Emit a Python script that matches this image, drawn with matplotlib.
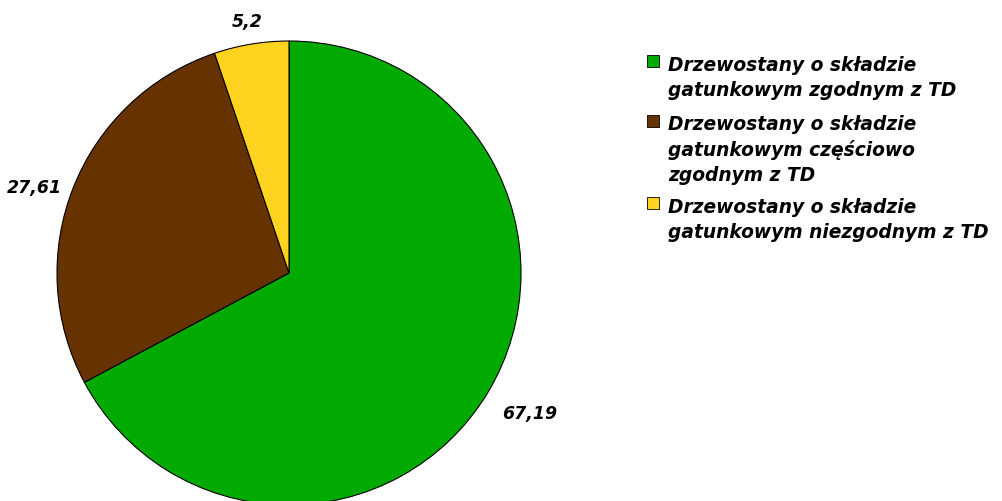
import numpy as np
import matplotlib
matplotlib.use("Agg")
import matplotlib.pyplot as plt
from matplotlib.patches import Rectangle

categories = [
    "Drzewostany o składzie\ngatunkowym zgodnym z TD",
    "Drzewostany o składzie\ngatunkowym częściowo\nzgodnym z TD",
    "Drzewostany o składzie\ngatunkowym niezgodnym z TD",
]
values = [67.19, 27.61, 5.2]
value_labels = ["67,19", "27,61", "5,2"]
colors = ["#00AA00", "#663300", "#FFD320"]

plt.rcParams['font.family'] = ['DejaVu Sans']

fig = plt.figure(figsize=(10.03, 5.01), dpi=100)
W, H = 1003, 501
cx, cy, R = 289, 273, 232
ax = fig.add_axes([(cx - R) / W, (H - cy - R) / H, 2 * R / W, 2 * R / H])
wedges, _ = ax.pie(values, colors=colors, startangle=90, counterclock=False,
                   wedgeprops=dict(edgecolor="black", linewidth=0.8), radius=1)
ax.set_xlim(-1, 1)
ax.set_ylim(-1, 1)
ax.axis("off")

label_dist = [1.20, 1.155, 1.095]
label_ang_shift = [0.6, 3.1, 0]
for w, lab, d, s in zip(wedges, value_labels, label_dist, label_ang_shift):
    ang = np.deg2rad((w.theta1 + w.theta2) / 2 + s)
    ax.text(d * np.cos(ang), d * np.sin(ang), lab, ha="center", va="center",
            fontsize=12.5, fontweight="bold", fontstyle="italic", clip_on=False)

# legend
first_baselines = [71, 131, 213]
line_h = 25
for cat, col, yb in zip(categories, colors, first_baselines):
    n = cat.count("\n")
    fig.patches.append(Rectangle((647 / W, 1 - (yb - 4) / H), 12 / W, 12 / H,
                                 transform=fig.transFigure, facecolor=col,
                                 edgecolor="black", linewidth=0.6))
    fig.text(668 / W, 1 - (yb + n * line_h) / H, cat, ha="left", va="baseline",
             fontsize=13.4, fontweight="bold", fontstyle="italic",
             linespacing=1.40)

fig.savefig("out.png", dpi=100)
